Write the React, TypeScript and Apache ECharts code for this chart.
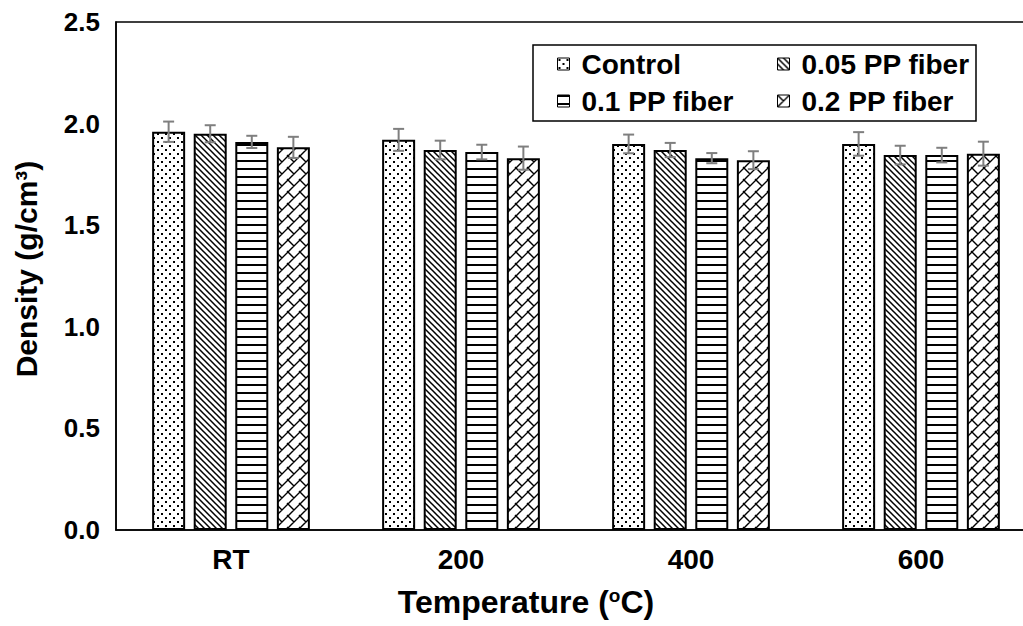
import React, { useEffect, useRef } from "react";
import * as echarts from "echarts";

const categories = ["RT", "200", "400", "600"];
const seriesNames = ["Control", "0.05 PP fiber", "0.1 PP fiber", "0.2 PP fiber"];
const yTicks = [0, 0.5, 1.0, 1.5, 2.0, 2.5];

const controlMean = [1.96, 1.92, 1.9, 1.9];
const pp005Mean = [1.95, 1.87, 1.87, 1.845];
const pp01Mean = [1.91, 1.86, 1.83, 1.845];
const pp02Mean = [1.883, 1.83, 1.82, 1.852];

const controlErr = [0.05, 0.054, 0.046, 0.058];
const pp005Err = [0.042, 0.046, 0.035, 0.046];
const pp01Err = [0.03, 0.036, 0.025, 0.036];
const pp02Err = [0.052, 0.057, 0.044, 0.059];

const means = [controlMean, pp005Mean, pp01Mean, pp02Mean];
const errs = [controlErr, pp005Err, pp01Err, pp02Err];

const FONT = "'Liberation Sans', Arial, sans-serif";
const BAR_W = 33;
const BAR_GAP = 0.26;

function svgUrl(w: number, h: number, body: string) {
  const s = `<svg xmlns='http://www.w3.org/2000/svg' width='${w}' height='${h}'><rect width='${w}' height='${h}' fill='white'/>${body}</svg>`;
  return "data:image/svg+xml;charset=utf-8," + encodeURIComponent(s);
}

const patterns = [
  {
    image: svgUrl(8, 8, "<rect x='1' y='1' width='2' height='2' fill='black'/><rect x='5' y='5' width='2' height='2' fill='black'/>"),
    w: 8,
    h: 8,
  },
  {
    image: svgUrl(6, 6, "<path d='M-1,-1 L7,7 M-1,5 L1,7 M5,-1 L7,1' stroke='black' stroke-width='1.5' fill='none'/>"),
    w: 6,
    h: 6,
  },
  {
    image: svgUrl(8, 8, "<rect x='0' y='0' width='8' height='2' fill='black'/>"),
    w: 8,
    h: 8,
  },
  {
    image: svgUrl(
      12,
      12,
      "<path d='M-1,13 L13,-1 M-1,1 L1,-1 M11,13 L13,11 M-1,-1 L6,6 M11,11 L13,13' stroke='black' stroke-width='1.4' fill='none'/>"
    ),
    w: 12,
    h: 12,
  },
];

export default function App() {
  const ref = useRef<HTMLDivElement>(null);
  useEffect(() => {
    if (!ref.current) return;
    const chart = echarts.init(ref.current, undefined, { renderer: "svg" });
    const pitch = BAR_W * (1 + BAR_GAP);
    const barSeries = seriesNames.map((name, s) => ({
      name,
      type: "bar",
      barWidth: BAR_W,
      barGap: BAR_GAP * 100 + "%",
      z: 2,
      itemStyle: {
        color: {
          image: patterns[s].image,
          repeat: "repeat",
          imageWidth: patterns[s].w,
          imageHeight: patterns[s].h,
        },
        borderColor: "#000",
        borderWidth: 2,
      },
      data: means[s],
    }));
    const errSeries = seriesNames.map((name, s) => ({
      type: "custom",
      z: 5,
      data: categories.map((c, i) => [i, means[s][i], errs[s][i]]),
      encode: { x: 0, y: 1 },
      renderItem: (params: any, api: any) => {
        const i = api.value(0);
        const m = api.value(1);
        const e = api.value(2);
        const x = api.coord([i, m])[0] + (s - 1.5) * pitch;
        const yT = api.coord([i, m + e])[1];
        const yB = api.coord([i, m - e])[1];
        const st = { stroke: "#7f7f7f", lineWidth: 2 };
        const cw = 5.5;
        return {
          type: "group",
          children: [
            { type: "line", shape: { x1: x, y1: yT, x2: x, y2: yB }, style: st },
            { type: "line", shape: { x1: x - cw, y1: yT, x2: x + cw, y2: yT }, style: st },
            { type: "line", shape: { x1: x - cw, y1: yB, x2: x + cw, y2: yB }, style: st },
          ],
        };
      },
    }));
    const legendPos = [
      [557, 50],
      [777, 50],
      [557, 87],
      [777, 87],
    ];
    const legends = seriesNames.map((n, s) => ({
      data: [n],
      left: legendPos[s][0],
      top: legendPos[s][1],
      padding: 0,
      itemWidth: 12,
      itemHeight: 12,
      selectedMode: false,
      icon: "rect",
      itemStyle: { borderColor: "#000", borderWidth: 1 },
      textStyle: {
        fontFamily: FONT,
        fontSize: 28,
        fontWeight: "bold",
        color: "#000",
        padding: [0, 0, 0, 7],
      },
    }));
    chart.setOption({
      animation: false,
      textStyle: { fontFamily: FONT },
      grid: {
        left: 116,
        top: 22,
        width: 920,
        height: 508,
        outerBoundsMode: "none",
        containLabel: false,
        show: true,
        borderColor: "#000",
        borderWidth: 1.5,
        backgroundColor: "transparent",
      },
      legend: legends,
      graphic: [
        {
          type: "rect",
          shape: { x: 533, y: 45, width: 443, height: 76 },
          style: { fill: "none", stroke: "#000", lineWidth: 1.5 },
          z: 10,
        },
      ],
      xAxis: {
        type: "category",
        data: categories,
        axisTick: { show: false },
        axisLine: { lineStyle: { color: "#000", width: 1.5 } },
        axisLabel: { fontSize: 28, fontWeight: "bold", color: "#000", margin: 15, fontFamily: FONT },
        name: "{a|Temperature (}{s|o}{a|C)}",
        nameLocation: "middle",
        nameGap: 56,
        nameTextStyle: {
          padding: [0, 100, 0, 0],
          rich: {
            a: { fontSize: 32, fontWeight: "bold", color: "#000", fontFamily: FONT },
            s: { fontSize: 19, fontWeight: "bold", color: "#000", fontFamily: FONT, verticalAlign: "top" },
          },
        },
      },
      yAxis: {
        type: "value",
        min: yTicks[0],
        max: yTicks[yTicks.length - 1],
        interval: 0.5,
        axisLine: { show: true, lineStyle: { color: "#000", width: 1.5 } },
        axisTick: { show: false },
        splitLine: { show: false },
        axisLabel: {
          fontSize: 26,
          fontWeight: "bold",
          color: "#000",
          margin: 16,
          fontFamily: FONT,
          formatter: (v: number) => v.toFixed(1),
        },
        name: "Density (g/cm³)",
        nameLocation: "middle",
        nameGap: 75,
        nameTextStyle: { fontSize: 30, fontWeight: "bold", color: "#000", fontFamily: FONT, padding: [0, 0, 0, 14] },
      },
      series: [...barSeries, ...errSeries],
    });
    return () => chart.dispose();
  }, []);
  return (
    <div
      ref={ref}
      style={{ position: "fixed", left: 0, top: 0, width: 1023, height: 626, background: "#fff" }}
    />
  );
}
